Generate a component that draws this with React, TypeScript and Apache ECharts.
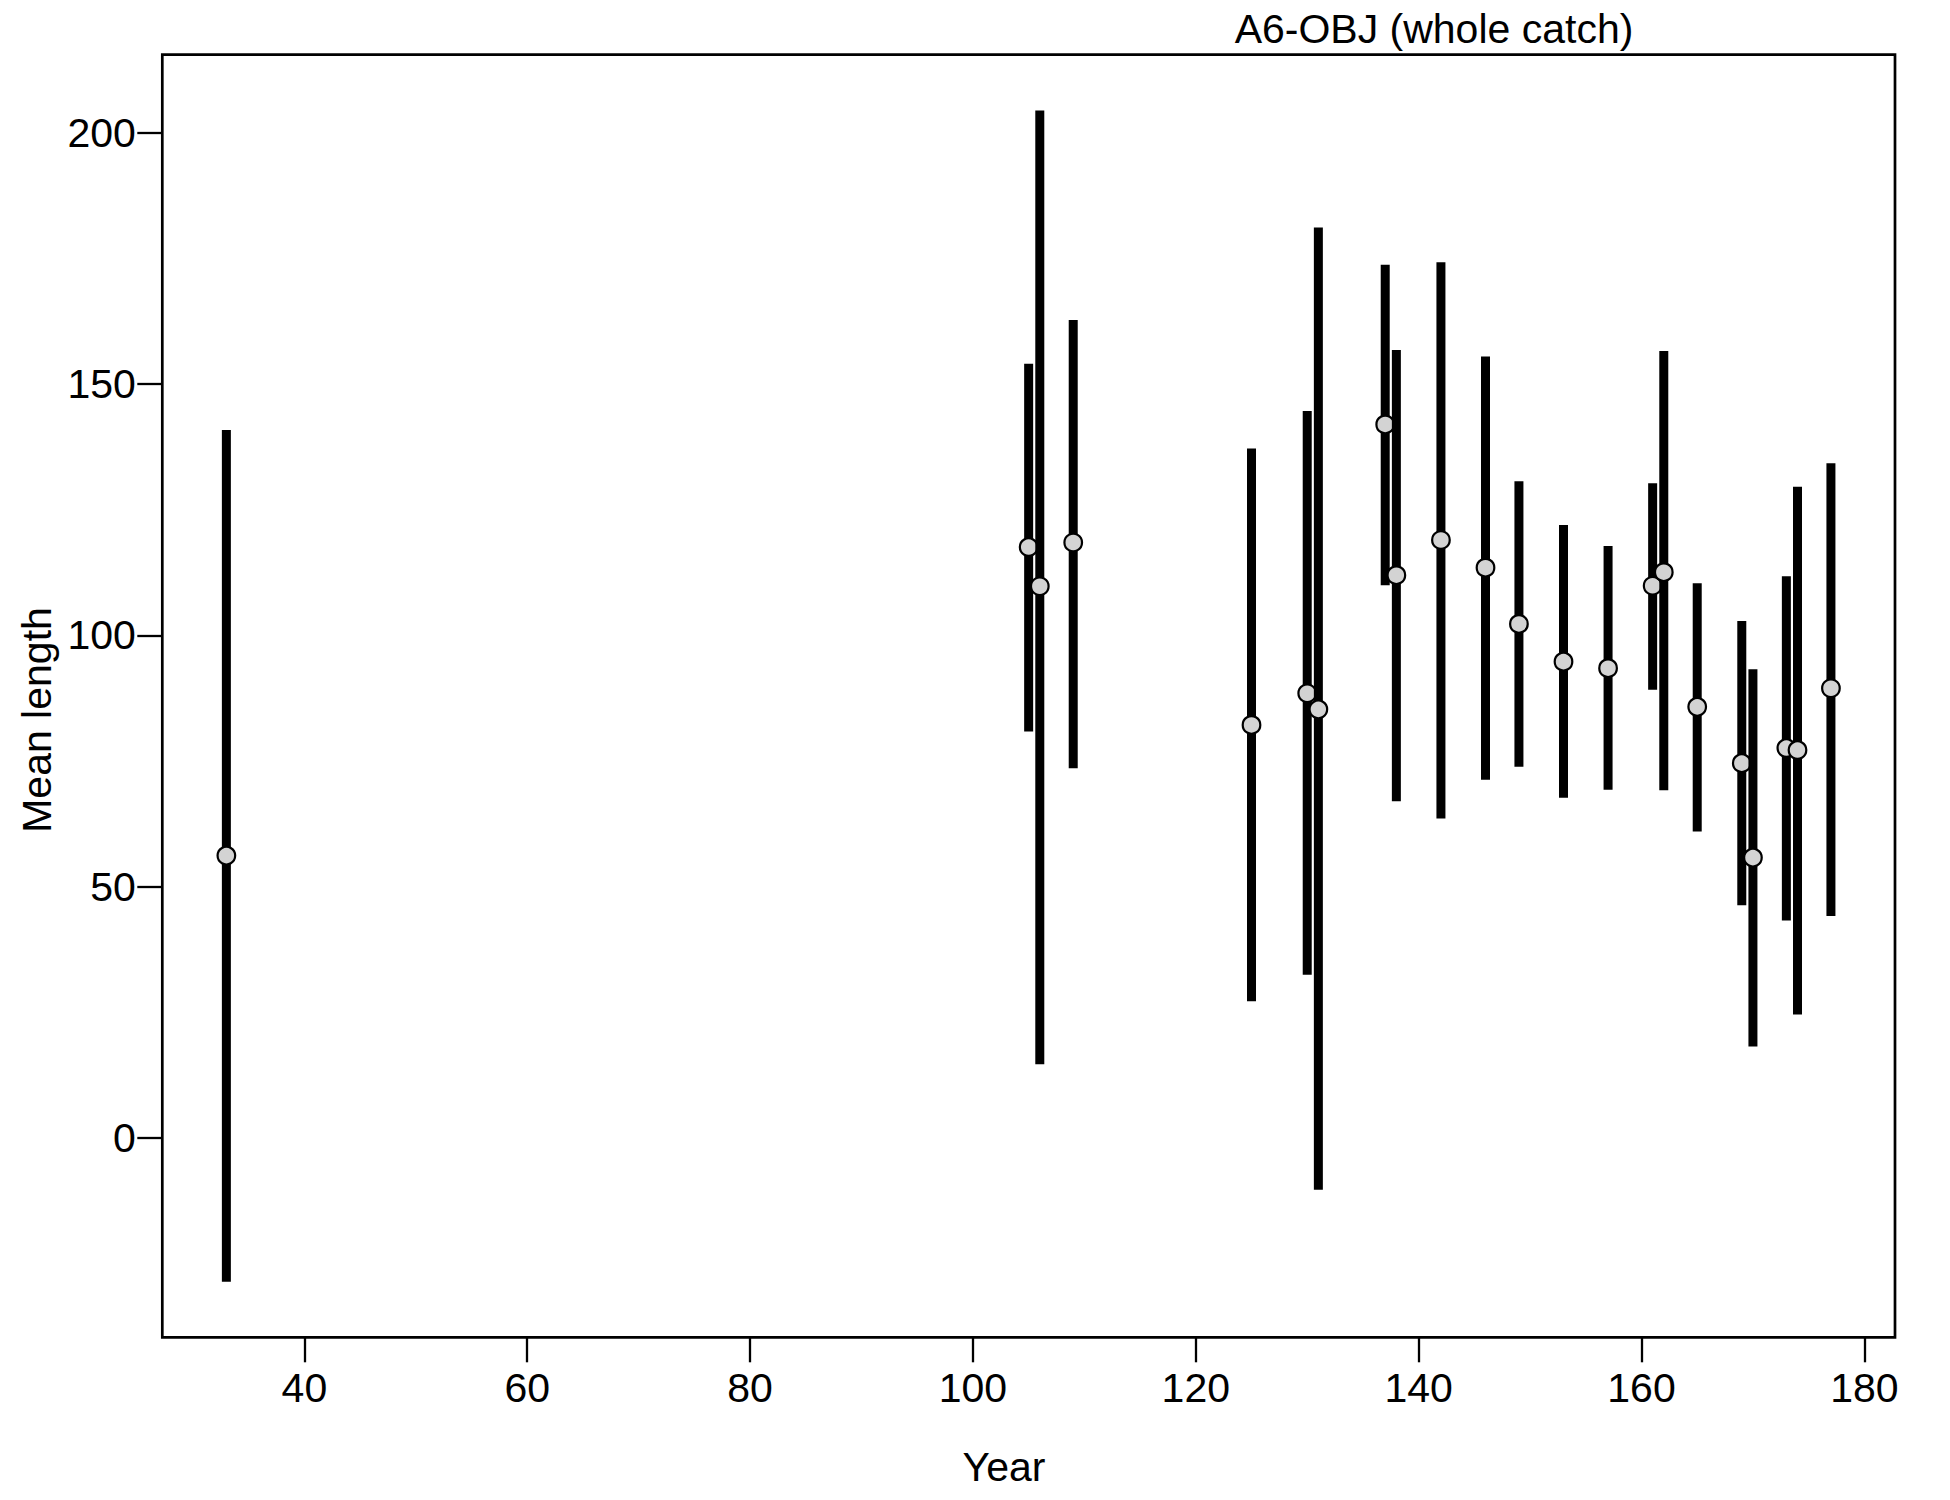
import React, { useEffect, useRef } from "react";
import * as echarts from "echarts";

const titleText = "A6-OBJ (whole catch)";
const xName = "Year";
const yName = "Mean length";

const years = [33, 105, 106, 109, 125, 130, 131, 137, 138, 142, 146, 149, 153, 157, 161, 162, 165, 169, 170, 173, 174, 177];
const means = [56.2, 117.6, 109.8, 118.5, 82.2, 88.5, 85.3, 142.0, 112.0, 119.0, 113.5, 102.3, 94.8, 93.5, 109.9, 112.6, 85.8, 74.6, 55.8, 77.6, 77.2, 89.5];
const upper = [140.9, 154.1, 204.5, 162.8, 137.2, 144.7, 181.2, 173.8, 156.8, 174.3, 155.5, 130.7, 122.0, 117.8, 130.3, 156.6, 110.4, 102.9, 93.3, 111.8, 129.6, 134.3];
const lower = [-28.6, 80.9, 14.7, 73.6, 27.2, 32.5, -10.3, 110.0, 67.0, 63.6, 71.3, 73.9, 67.7, 69.3, 89.2, 69.2, 61.0, 46.3, 18.2, 43.3, 24.6, 44.2];

const xTicks = [40, 60, 80, 100, 120, 140, 160, 180];
const yTicks = [0, 50, 100, 150, 200];

const FONT = "'Liberation Sans', Arial, sans-serif";

export default function App() {
  const ref = useRef<HTMLDivElement>(null);
  useEffect(() => {
    if (!ref.current) return;
    const chart = echarts.init(ref.current, null, { renderer: "svg" });
    const data = years.map((y, i) => [y, lower[i], means[i], upper[i]]);
    chart.setOption({
      animation: false,
      backgroundColor: "#ffffff",
      textStyle: { fontFamily: FONT },
      grid: {
        left: 162.3,
        right: 55,
        top: 54.7,
        bottom: 162.7,
        show: true,
        borderColor: "#000",
        borderWidth: 2.7,
        backgroundColor: "transparent",
      },
      xAxis: {
        type: "value",
        position: "bottom",
        min: 27.25,
        max: 182.75,
        axisLine: { show: false, onZero: false },
        splitLine: { show: false },
        axisTick: {
          show: true,
          inside: false,
          length: 25,
          customValues: xTicks,
          lineStyle: { color: "#000", width: 2.3 },
        },
        axisLabel: {
          customValues: xTicks,
          margin: 30,
          fontSize: 41,
          color: "#000",
          fontFamily: FONT,
        },
      },
      yAxis: {
        type: "value",
        position: "left",
        min: -39.66,
        max: 215.58,
        axisLine: { show: false, onZero: false },
        splitLine: { show: false },
        axisTick: {
          show: true,
          inside: false,
          length: 25,
          customValues: yTicks,
          lineStyle: { color: "#000", width: 2.3 },
        },
        axisLabel: {
          customValues: yTicks,
          margin: 26.5,
          fontSize: 41,
          color: "#000",
          fontFamily: FONT,
        },
      },
      graphic: [
        {
          type: "text",
          x: 1434,
          y: 29.1,
          style: { text: titleText, font: `41px ${FONT}`, fill: "#000", textAlign: "center", textVerticalAlign: "middle" },
        },
        {
          type: "text",
          x: 1004,
          y: 1466.8,
          style: { text: xName, font: `41px ${FONT}`, fill: "#000", textAlign: "center", textVerticalAlign: "middle" },
        },
        {
          type: "text",
          x: 36.5,
          y: 720,
          rotation: Math.PI / 2,
          style: { text: yName, font: `41px ${FONT}`, fill: "#000", textAlign: "center", textVerticalAlign: "middle" },
        },
      ],
      series: [
        {
          type: "custom",
          data,
          clip: false,
          renderItem: (params: any, api: any) => {
            const x = api.value(0);
            const lo = api.coord([x, api.value(1)]);
            const mid = api.coord([x, api.value(2)]);
            const hi = api.coord([x, api.value(3)]);
            return {
              type: "group",
              children: [
                {
                  type: "rect",
                  shape: { x: hi[0] - 4.5, y: hi[1], width: 9, height: lo[1] - hi[1] },
                  style: { fill: "#000" },
                },
                {
                  type: "circle",
                  shape: { cx: mid[0], cy: mid[1], r: 8.8 },
                  style: { fill: "#d3d3d3", stroke: "#000", lineWidth: 2.2 },
                },
              ],
            };
          },
        },
      ],
    });
    return () => chart.dispose();
  }, []);
  return (
    <div
      ref={ref}
      style={{ position: "absolute", left: 0, top: 0, width: 1950, height: 1500 }}
    />
  );
}
